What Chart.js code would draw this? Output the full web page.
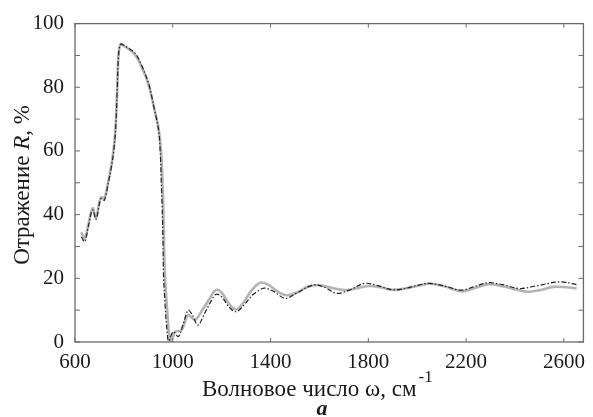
<!DOCTYPE html>
<html>
<head>
<meta charset="utf-8">
<script src="https://cdn.jsdelivr.net/npm/chart.js@4.4.1/dist/chart.umd.min.js"></script>
<style>
  body { margin: 0; background: #fff; }
  #spectrum { display: block; }
</style>
</head>
<body>
<canvas id="spectrum" width="593" height="417"></canvas>
<script>
// wavenumber, cm^-1 / reflectance, %  (solid grey curve)
var waveSolid = [626, 640, 655, 672, 686, 700, 707, 720, 735, 750, 760, 767, 773, 778, 786, 800, 820, 848, 875, 902,
    925, 942, 952, 958, 962, 965, 970, 978, 989, 1000, 1010, 1036, 1063, 1090, 1120, 1150, 1176, 1200, 1230, 1259,
    1290, 1320, 1358, 1390, 1430, 1467, 1510, 1550, 1595, 1650, 1710, 1760, 1804, 1850, 1898, 1950, 2000, 2053,
    2110, 2181, 2230, 2289, 2350, 2450, 2500, 2558, 2610, 2652];
var reflSolid = [34.5, 32.5, 37, 42, 39, 44, 45.5, 45, 50, 56, 62, 69, 80, 90, 93.5, 93, 92, 90, 86, 80.5,
    73, 67, 60, 50, 40, 28, 18, 9, 0.3, 1.5, 3.2, 3.8, 8.5, 6.9, 10, 13.5, 16.3, 15.5, 12, 10.2,
    12.5, 16, 18.6, 18, 15.8, 14.7, 15.6, 17.3, 17.9, 17, 16.3, 17, 17.6, 17.2, 16.4, 16.8, 17.6, 18.3,
    17.5, 15.9, 16.8, 18.1, 17.5, 15.8, 16.3, 17.3, 17.2, 16.8];

// dash-dot curve
var waveDash = [626, 640, 655, 672, 686, 700, 707, 720, 735, 750, 760, 767, 773, 778, 786, 800, 820, 848, 875, 902,
    925, 942, 949, 953, 956, 960, 962, 969, 976, 983, 1002, 1023, 1040, 1063, 1080, 1103, 1130, 1158, 1178, 1200,
    1230, 1259, 1290, 1330, 1373, 1410, 1461, 1510, 1575, 1620, 1669, 1720, 1784, 1840, 1898, 1950, 2000, 2053,
    2110, 2181, 2230, 2289, 2350, 2417, 2480, 2585, 2659];
var reflDash = [33, 31.5, 36.5, 41.5, 38.5, 43.5, 45, 44.5, 49.5, 55.5, 61, 68, 80, 90, 93.5, 93.2, 92.2, 90.5, 86.5, 81,
    73, 66.5, 59, 50, 43.5, 32, 21.5, 11, 4, 0.3, 3.2, 1.7, 5, 10, 8.5, 5.3, 9, 13, 15, 14.2,
    11, 9.5, 11.5, 15, 16.9, 16, 13.7, 15.5, 17.9, 17.2, 15.3, 16.2, 18.4, 17.7, 16.4, 16.8, 17.8, 18.4,
    17.6, 16.3, 17.3, 18.6, 18, 16.8, 17.5, 18.9, 17.9];

var xTicks = [600, 1000, 1400, 1800, 2200, 2600];

var serif = '"Liberation Serif", "DejaVu Serif", serif';
var ink = '#1a1a1a';

function pairs(xs, ys) {
    return xs.map(function (x, i) { return { x: x, y: ys[i] }; });
}

// frame, inward ticks and the axis titles
var frame = {
    id: 'frame',
    afterDraw: function (chart) {
        var ctx = chart.ctx, a = chart.chartArea;
        var sx = chart.scales.x, sy = chart.scales.y;
        ctx.save();
        ctx.strokeStyle = '#6b6b6b';
        ctx.lineWidth = 1.3;
        ctx.strokeRect(a.left, a.top, a.right - a.left, a.bottom - a.top);

        ctx.lineWidth = 1;
        ctx.beginPath();
        sx.ticks.forEach(function (t) {
            var px = sx.getPixelForValue(t.value);
            ctx.moveTo(px, a.bottom); ctx.lineTo(px, a.bottom - 4);
            ctx.moveTo(px, a.top); ctx.lineTo(px, a.top + 4);
        });
        sy.ticks.forEach(function (t) {
            var py = sy.getPixelForValue(t.value);
            ctx.moveTo(a.left, py); ctx.lineTo(a.left + 5, py);
            ctx.moveTo(a.right, py); ctx.lineTo(a.right - 5, py);
        });
        ctx.stroke();

        ctx.fillStyle = ink;
        ctx.textBaseline = 'alphabetic';

        // x title with superscript
        var main = 'Волновое число ω, см';
        ctx.font = '23px ' + serif;
        var w1 = ctx.measureText(main).width;
        var x0 = 202;
        ctx.fillText(main, x0, 396);
        ctx.font = '17px ' + serif;
        ctx.fillText('-1', x0 + w1 + 2, 382);

        ctx.font = 'italic bold 22px ' + serif;
        ctx.textAlign = 'center';
        ctx.fillText('a', 322, 415);

        // y title, rotated, with italic R
        var parts = [['Отражение ', ''], ['R', 'italic '], [', %', '']];
        var total = 0;
        parts.forEach(function (p) {
            ctx.font = p[1] + '23px ' + serif;
            p.push(ctx.measureText(p[0]).width);
            total += p[2];
        });
        ctx.translate(29, 185);
        ctx.rotate(-Math.PI / 2);
        ctx.textAlign = 'left';
        var cx = -total / 2;
        parts.forEach(function (p) {
            ctx.font = p[1] + '23px ' + serif;
            ctx.fillText(p[0], cx, 0);
            cx += p[2];
        });
        ctx.restore();
    }
};

var ctx = document.getElementById('spectrum').getContext('2d');
var chart = new Chart(ctx, {
    type: 'line',
    data: {
        datasets: [
            {
                label: 'solid',
                data: pairs(waveSolid, reflSolid),
                borderColor: '#b4b4b4',
                borderWidth: 2.6,
                pointRadius: 0,
                tension: 0.35,
                fill: false,
                order: 2
            },
            {
                label: 'dash',
                data: pairs(waveDash, reflDash),
                borderColor: '#202020',
                borderWidth: 1.2,
                borderDash: [5, 2, 1.5, 2],
                pointRadius: 0,
                tension: 0.35,
                fill: false,
                order: 1
            }
        ]
    },
    options: {
        responsive: false,
        devicePixelRatio: 1,
        animation: false,
        layout: { padding: { top: 23, right: 3, left: 0, bottom: 0 } },
        plugins: {
            legend: { display: false },
            tooltip: { enabled: false }
        },
        scales: {
            x: {
                type: 'linear',
                min: 600,
                max: 2680,
                afterFit: function (s) { s.height = 75; },
                afterBuildTicks: function (s) {
                    s.ticks = xTicks.map(function (v) { return { value: v }; });
                },
                grid: { display: false, drawTicks: false },
                border: { display: false },
                ticks: {
                    padding: 8,
                    color: ink,
                    maxRotation: 0,
                    autoSkip: false,
                    font: { family: serif, size: 21 },
                    callback: function (v) { return String(v); }
                }
            },
            y: {
                min: 0,
                max: 100,
                afterFit: function (s) { s.width = 75; },
                grid: { display: false, drawTicks: false },
                border: { display: false },
                ticks: {
                    stepSize: 10,
                    padding: 11,
                    color: ink,
                    autoSkip: false,
                    font: { family: serif, size: 21 },
                    callback: function (v) { return v % 20 === 0 ? String(v) : ''; }
                }
            }
        }
    },
    plugins: [frame]
});
</script>
</body>
</html>
